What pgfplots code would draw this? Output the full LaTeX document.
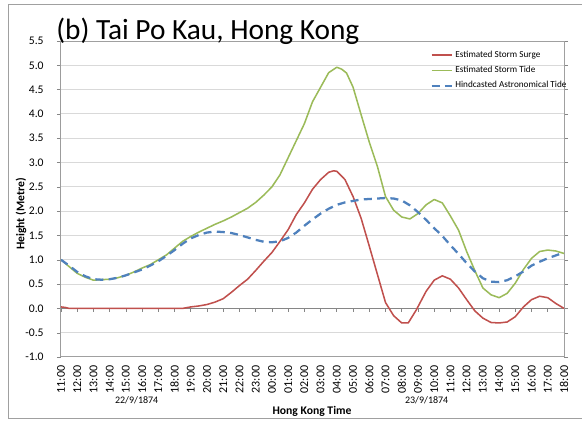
\documentclass[border=0pt]{standalone}
\usepackage{pgfplots}
\pgfplotsset{compat=1.18}
\usepackage{pgfplotstable}
\usepackage{fontspec}
\setmainfont{Carlito}

\definecolor{surge}{RGB}{192,80,77}
\definecolor{stide}{RGB}{155,187,89}
\definecolor{atide}{RGB}{79,129,189}
\definecolor{gridc}{RGB}{217,217,217}
\definecolor{axisc}{RGB}{134,134,134}
\definecolor{framec}{RGB}{160,160,160}

% hours after 11:00 on 22/9/1874, height in metres
\pgfplotstableread{
h v
0 0.03
0.25 0.02
0.5 0.00
1 0.00
2 0.00
3 0.00
4 0.00
5 0.00
6 0.00
7 0.00
7.5 0.00
8 0.03
8.5 0.05
9 0.08
9.5 0.13
10 0.20
10.5 0.33
11 0.47
11.5 0.60
12 0.78
12.5 0.97
13 1.15
13.5 1.38
14 1.62
14.5 1.93
15 2.17
15.5 2.45
16 2.65
16.5 2.80
16.8 2.83
17 2.82
17.5 2.65
18 2.30
18.5 1.85
19 1.28
19.5 0.70
20 0.12
20.5 -0.15
21 -0.30
21.4 -0.30
21.9 -0.03
22.5 0.35
23 0.58
23.5 0.67
24 0.60
24.5 0.42
25 0.18
25.5 -0.05
26 -0.20
26.5 -0.29
27 -0.30
27.5 -0.28
28 -0.17
28.5 0.03
29 0.18
29.5 0.25
30 0.22
30.5 0.10
31 0.00
}\surge

\pgfplotstableread{
h v
0 1.00
0.5 0.86
1 0.72
1.5 0.64
2 0.58
2.5 0.59
3 0.60
3.5 0.63
4 0.68
4.5 0.75
5 0.83
5.5 0.90
6 1.00
6.5 1.10
7 1.24
7.5 1.38
8 1.48
8.5 1.57
9 1.65
9.5 1.73
10 1.80
10.5 1.88
11 1.97
11.5 2.06
12 2.18
12.5 2.33
13 2.50
13.5 2.75
14 3.10
14.5 3.45
15 3.80
15.5 4.25
16 4.55
16.5 4.85
17 4.96
17.3 4.92
17.6 4.84
18 4.55
18.5 3.98
19 3.42
19.5 2.92
20 2.30
20.5 2.02
21 1.88
21.5 1.84
22 1.95
22.5 2.13
23 2.24
23.5 2.17
24 1.90
24.5 1.61
25 1.17
25.5 0.78
26 0.42
26.5 0.28
27 0.22
27.5 0.31
28 0.52
28.5 0.80
29 1.03
29.5 1.17
30 1.20
30.5 1.18
31 1.13
}\stormtide

\pgfplotstableread{
h v
0 1.00
0.5 0.88
1 0.75
1.5 0.66
2 0.60
2.5 0.59
3 0.60
3.5 0.63
4 0.68
4.5 0.74
5 0.80
5.5 0.88
6 0.97
6.5 1.08
7 1.20
7.5 1.33
8 1.44
8.5 1.51
9 1.56
9.5 1.58
10 1.57
10.5 1.55
11 1.51
11.5 1.46
12 1.41
12.5 1.37
13 1.36
13.5 1.38
14 1.45
14.5 1.56
15 1.70
15.5 1.83
16 1.95
16.5 2.05
17 2.13
17.5 2.18
18 2.21
18.5 2.24
19 2.25
19.5 2.26
20 2.27
20.5 2.26
21 2.22
21.5 2.12
22 1.98
22.5 1.82
23 1.65
23.5 1.49
24 1.30
24.5 1.12
25 0.93
25.5 0.76
26 0.62
26.5 0.55
27 0.54
27.5 0.58
28 0.66
28.5 0.76
29 0.88
29.5 0.96
30 1.03
30.5 1.09
31 1.15
}\astrotide

\begin{document}
\begin{tikzpicture}
\begin{axis}[
  scale only axis, width=377.25pt, height=237pt,
  xmin=0, xmax=31, ymin=-1, ymax=5.5,
  xtick={0,...,31},
  xticklabels={11:00,12:00,13:00,14:00,15:00,16:00,17:00,18:00,19:00,20:00,21:00,22:00,23:00,00:00,01:00,02:00,03:00,04:00,05:00,06:00,07:00,08:00,09:00,10:00,11:00,12:00,13:00,14:00,15:00,16:00,17:00,18:00},
  ytick={-1,-0.5,0,0.5,1,1.5,2,2.5,3,3.5,4,4.5,5,5.5},
  yticklabel style={/pgf/number format/fixed, /pgf/number format/fixed zerofill,
    /pgf/number format/precision=1, /pgf/number format/assume math mode=true,
    font=\fontsize{8.75}{10}\selectfont, xshift=-6.5pt},
  xticklabel style={rotate=90, anchor=east, font=\fontsize{9}{10}\selectfont},
  xtick style={draw=none},
  ytick style={axisc},
  tick align=outside, major tick length=3pt,
  ymajorgrids, major grid style={gridc, line width=0.75pt},
  axis line style={framec, line width=0.75pt},
  legend style={at={(0.734,0.978)}, anchor=north west, draw=none, fill=none,
    font=\fontsize{6.9}{8}\selectfont, row sep=1.2pt, inner sep=0pt},
  legend cell align=left,
  legend image code/.code={\draw[#1] (0pt,0pt) -- (15pt,0pt);},
]
\coordinate (O) at (rel axis cs:0,0);
\draw[axisc, line width=0.75pt] (axis cs:0,-1) -- (axis cs:0,5.5);
\draw[axisc, line width=0.75pt] (axis cs:0,0) -- (axis cs:31,0);
\pgfplotsinvokeforeach{0,...,31}{
  \draw[axisc, line width=0.6pt] (axis cs:#1,0) -- ([yshift=-3pt]axis cs:#1,0);
}
\addplot[surge, line width=1.15pt, line join=round] table[x=h, y=v] {\surge};
\addlegendentry{Estimated Storm Surge}
\addplot[stide, line width=1.15pt, line join=round] table[x=h, y=v] {\stormtide};
\addlegendentry{Estimated Storm Tide}
\addplot[atide, line width=1.7pt, dash pattern=on 6pt off 4pt] table[x=h, y=v] {\astrotide};
\addlegendentry{Hindcasted Astronomical Tide}
\end{axis}
% surrounding chart area, 0.75pt per unit, origin at the plot's lower-left corner
\begin{scope}[shift={(O)}, x=0.75pt, y=0.75pt]
\pgfresetboundingbox
\useasboundingbox (-61,-64) rectangle (521,357);
\draw[framec, line width=0.75pt, overlay] (-52,-61) rectangle (530,352);
\node[anchor=base west, font=\fontsize{22}{24}\selectfont, inner sep=0pt] at (-5,317) {(b) Tai Po Kau, Hong Kong};
\node[font=\fontsize{7.5}{9}\selectfont] at (75.7,-43) {22/9/1874};
\node[font=\fontsize{7.5}{9}\selectfont] at (365.7,-43) {23/9/1874};
\node[font=\fontsize{8.75}{10}\selectfont\bfseries] at (251,-54) {Hong Kong Time};
\node[rotate=90, font=\fontsize{8.75}{10}\selectfont\bfseries] at (-40,143) {Height (Metre)};
\end{scope}
\end{tikzpicture}
\end{document}
